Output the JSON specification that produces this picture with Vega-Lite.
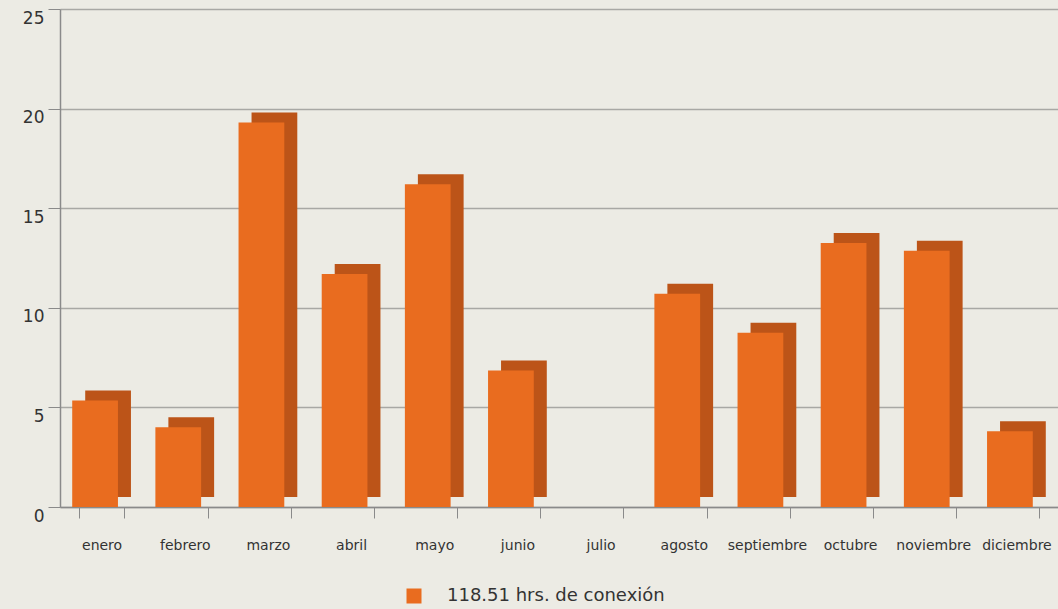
{
  "$schema": "https://vega.github.io/schema/vega-lite/v6.json",
  "width": 998,
  "height": 498,
  "autosize": {"type": "none"},
  "padding": {"left": 60, "top": 9, "right": 0, "bottom": 102},
  "background": "#ECEBE4",
  "config": {
    "view": {"stroke": null},
    "font": "DejaVu Sans"
  },
  "data": {
    "values": [
      {"mes": "enero", "horas": 5.35, "serie": "118.51 hrs. de conexión"},
      {"mes": "febrero", "horas": 4.0, "serie": "118.51 hrs. de conexión"},
      {"mes": "marzo", "horas": 19.3, "serie": "118.51 hrs. de conexión"},
      {"mes": "abril", "horas": 11.7, "serie": "118.51 hrs. de conexión"},
      {"mes": "mayo", "horas": 16.2, "serie": "118.51 hrs. de conexión"},
      {"mes": "junio", "horas": 6.85, "serie": "118.51 hrs. de conexión"},
      {"mes": "julio", "horas": 0, "serie": "118.51 hrs. de conexión"},
      {"mes": "agosto", "horas": 10.7, "serie": "118.51 hrs. de conexión"},
      {"mes": "septiembre", "horas": 8.75, "serie": "118.51 hrs. de conexión"},
      {"mes": "octubre", "horas": 13.25, "serie": "118.51 hrs. de conexión"},
      {"mes": "noviembre", "horas": 12.86, "serie": "118.51 hrs. de conexión"},
      {"mes": "diciembre", "horas": 3.8, "serie": "118.51 hrs. de conexión"}
    ]
  },
  "encoding": {
    "x": {
      "field": "mes",
      "type": "nominal",
      "sort": null,
      "scale": {"paddingInner": 0.45, "paddingOuter": 0.225},
      "axis": {
        "title": null,
        "labelAngle": 0,
        "labelFontSize": 14,
        "labelColor": "#333333",
        "labelPadding": 20,
        "tickBand": "extent",
        "tickSize": 11,
        "tickColor": "#8a8a8a",
        "domainColor": "#8a8a8a",
        "domainWidth": 1.5,
        "labelFont": "DejaVu Sans"
      }
    },
    "y": {
      "field": "horas",
      "type": "quantitative",
      "scale": {"domain": [0, 25], "nice": false},
      "axis": {
        "title": null,
        "values": [0, 5, 10, 15, 20, 25],
        "labelFontSize": 17,
        "labelColor": "#333333",
        "labelBaseline": "middle",
        "labelOffset": 9,
        "labelPadding": 4,
        "tickSize": 12,
        "tickColor": "#8a8a8a",
        "domainColor": "#8a8a8a",
        "domainWidth": 1.5,
        "gridColor": "#a8a8a4",
        "gridWidth": 1.5,
        "labelFont": "DejaVu Sans"
      }
    }
  },
  "layer": [
    {
      "mark": {"type": "bar", "color": "#BC5418", "xOffset": 6.5, "yOffset": -10},
      "encoding": {}
    },
    {
      "mark": {"type": "bar", "xOffset": -6.5},
      "encoding": {
        "color": {
          "field": "serie",
          "type": "nominal",
          "scale": {"range": ["#E96C1F"]},
          "legend": {
            "title": null,
            "orient": "none",
            "legendX": 345,
            "legendY": 578,
            "symbolType": "square",
            "symbolSize": 225,
            "symbolStrokeWidth": 0,
            "labelFontSize": 18,
            "labelLimit": 500,
            "labelColor": "#333333",
            "labelOffset": 24,
            "labelFont": "DejaVu Sans"
          }
        }
      }
    }
  ]
}
